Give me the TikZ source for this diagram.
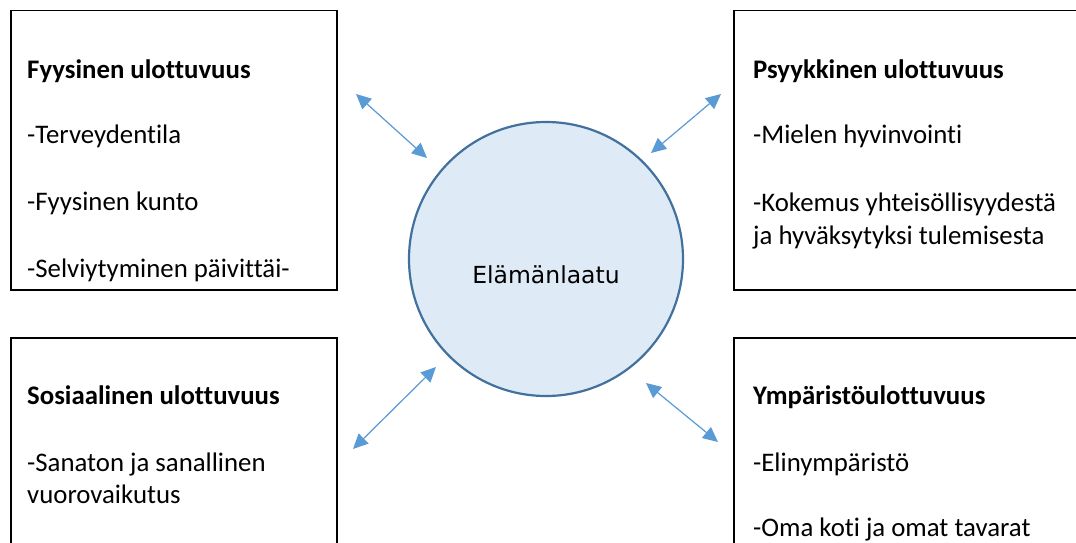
\documentclass[tikz,border=0pt]{standalone}
\usepackage{fontspec}
\setmainfont[Ligatures=CommonOff]{Carlito}
\newfontfamily\circfont{DejaVu Sans}
\usetikzlibrary{arrows.meta}
\definecolor{arrowblue}{HTML}{5B9BD5}
\definecolor{circfill}{HTML}{DEEBF7}
\definecolor{circline}{HTML}{41719C}
\tikzset{
  dimbox/.style={draw=black, line width=1.5pt, fill=white, rectangle, inner sep=0pt, anchor=north west},
  boxtext/.style={anchor=base west, inner sep=0pt, font=\fontsize{26.8}{33}\selectfont},
  boxtitle/.style={boxtext, font=\fontsize{26.8}{33}\selectfont\bfseries},
  biarrow/.style={draw=arrowblue, line width=1.2pt, {Triangle[length=15pt,width=14pt]}-{Triangle[length=15pt,width=14pt]}, fill=arrowblue},
}
\begin{document}
\begin{tikzpicture}[x=1pt,y=-1pt]
\useasboundingbox (0,0) rectangle (1076,543);
\clip (0,0) rectangle (1076,543);
\fill[white] (0,0) rectangle (1076,543);
% boxes
\node[dimbox, minimum width=326pt, minimum height=279pt] (fy) at (10,10) {};
\node[dimbox, minimum width=345pt, minimum height=279pt] (ps) at (733,10) {};
\node[dimbox, minimum width=326pt, minimum height=260pt] (so) at (10,337) {};
\node[dimbox, minimum width=345pt, minimum height=260pt] (ym) at (733,337) {};
% circle
\node[circle, draw=circline, fill=circfill, line width=2.2pt, minimum size=274pt, inner sep=0pt] (c) at (546,259) {};
\node[font=\circfont\fontsize{23.5}{28}\selectfont, inner sep=0pt] (ct) at (546,275) {Elämänlaatu};
% texts top-left
\node[boxtitle] (fy1) at (27,78) {Fyysinen ulottuvuus};
\node[boxtext] (fy2) at (27,143) {-Terveydentila};
\node[boxtext] (fy3) at (27,210) {-Fyysinen kunto};
\node[boxtext] (fy4) at (27,277) {-Selviytyminen päivittäi-};
% texts top-right
\node[boxtitle] (ps1) at (753,78) {Psyykkinen ulottuvuus};
\node[boxtext] (ps2) at (753,143) {-Mielen hyvinvointi};
\node[boxtext] (ps3) at (753,211) {-Kokemus yhteisöllisyydestä};
\node[boxtext] (ps4) at (753,244) {ja hyväksytyksi tulemisesta};
% texts bottom-left
\node[boxtitle] (so1) at (27,404) {Sosiaalinen ulottuvuus};
\node[boxtext] (so2) at (27,471) {-Sanaton ja sanallinen};
\node[boxtext] (so3) at (27,503) {vuorovaikutus};
% texts bottom-right
\node[boxtitle] (ym1) at (753,404) {Ympäristöulottuvuus};
\node[boxtext] (ym2) at (753,471) {-Elinympäristö};
\node[boxtext] (ym3) at (753,536) {-Oma koti ja omat tavarat};
% arrow end points
\coordinate (a1s) at (356,94);  \coordinate (a1e) at (427,158);
\coordinate (a2s) at (721,94);  \coordinate (a2e) at (651,153);
\coordinate (a3s) at (353,449); \coordinate (a3e) at (436,367);
\coordinate (a4s) at (718,442); \coordinate (a4e) at (646,383);
\draw[biarrow] (a1s) -- (a1e);
\draw[biarrow] (a2s) -- (a2e);
\draw[biarrow] (a3s) -- (a3e);
\draw[biarrow] (a4s) -- (a4e);
\end{tikzpicture}
\end{document}
